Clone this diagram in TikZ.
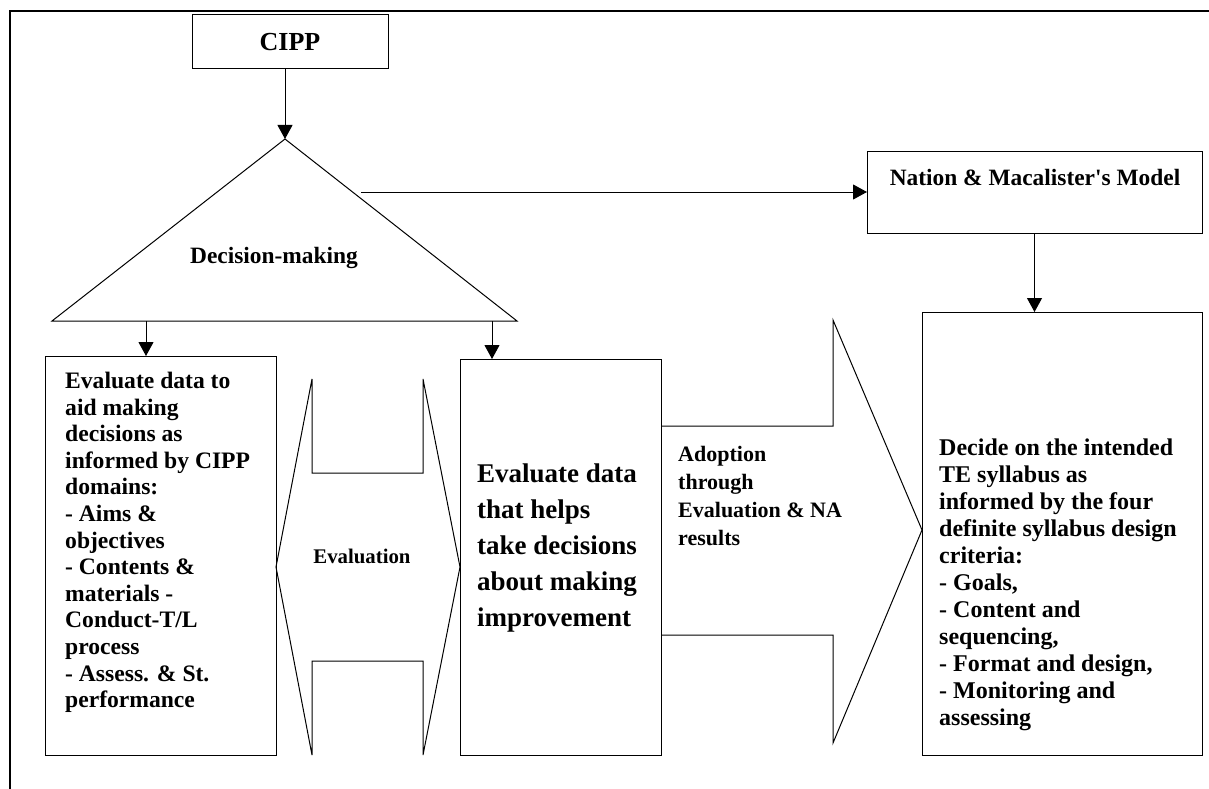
\documentclass[tikz,border=0pt]{standalone}
\usepackage{fontspec}
\setmainfont{Liberation Serif}
\usetikzlibrary{arrows.meta}

\tikzset{
  box/.style={draw, line width=1pt, inner sep=0pt, outer sep=0pt, anchor=north west},
  lbl/.style={inner sep=0pt, align=left},
  arr/.style={line width=1pt, -{Triangle[width=15pt,length=14pt]}},
}

\begin{document}
\begin{tikzpicture}[x=1pt, y=-1pt]
    \useasboundingbox (0,0) rectangle (1209,789);

    % page frame, open at the bottom and right
    \draw[line width=2pt] (10,789) -- (10,11) -- (1209,11);

    % boxes
    \node[box, minimum width=196, minimum height=54,
      font=\bfseries\fontsize{26}{28}\selectfont] (cipp) at (192,15) {CIPP};
    \node[box, minimum width=335, minimum height=82] (nation) at (867,151) {};
    \node[box, minimum width=231, minimum height=399] (aims) at (45,356) {};
    \node[box, minimum width=201, minimum height=396] (improve) at (460,359) {};
    \node[box, minimum width=280, minimum height=443] (syllabus) at (922,312) {};

    % decision-making triangle
    \coordinate (apex) at (285,139);
    \coordinate (baseL) at (146,321);
    \coordinate (baseR) at (492,321);
    \coordinate (decout) at (361,192);
    \draw[line width=1pt] (apex) -- (517,321) -- (52,321) -- cycle;

    % evaluation double arrow
    \draw[line width=1pt] (276,567) -- (312,379) -- (312,473) -- (423,473) --
    (423,379) -- (460,567) -- (423,755) -- (423,661) -- (312,661) --
    (312,755) -- cycle;

    % adoption block arrow
    \draw[line width=1pt] (661,426) -- (833,426) -- (833,320) -- (922,530) --
    (833,743) -- (833,635) -- (661,635);

    % connectors
    \draw[arr] (apex |- cipp.south) -- (apex);
    \draw[arr] (baseL) -- (baseL |- aims.north);
    \draw[arr] (baseR) -- (baseR |- improve.north);
    \draw[arr] (decout) -- (nation.west |- decout);
    \draw[arr] (nation.south) -- (nation.south |- syllabus.north);

    % texts
    \node[lbl, anchor=base, font=\bfseries\fontsize{23.4}{26}\selectfont]
      (nationtxt) at (1035,185) {Nation \& Macalister\textquotesingle s Model};
    \node[lbl, anchor=base, font=\bfseries\fontsize{23.4}{26}\selectfont]
      (dectxt) at (274,263) {Decision-making};
    \node[lbl, anchor=base, font=\bfseries\fontsize{20.8}{24}\selectfont]
      (evaltxt) at (362,563) {Evaluation};
    \node[lbl, anchor=north west, font=\bfseries\fontsize{23.6}{26.6}\selectfont]
      (aimstxt) at (65,372) {Evaluate data to\\aid making\\decisions as\\
      informed by CIPP\\domains:\\- Aims \&\\objectives\\- Contents \&\\
      materials -\\Conduct-T/L\\process\\- Assess. \& St.\\performance};
    \node[lbl, anchor=north west, font=\bfseries\fontsize{27}{36}\selectfont]
      (improvetxt) at (477,464) {Evaluate data\\that helps\\take decisions\\
      about making\\improvement};
    \node[lbl, anchor=north west, font=\bfseries\fontsize{22}{28}\selectfont]
      (adopttxt) at (678,446) {Adoption\\through\\Evaluation \& NA\\results};
    \node[lbl, anchor=north west, font=\bfseries\fontsize{24}{27}\selectfont]
      (syllabustxt) at (939,439) {Decide on the intended\\TE syllabus as\\
      informed by the four\\definite syllabus design\\criteria:\\- Goals,\\
      - Content and\\sequencing,\\- Format and design,\\- Monitoring and\\
      assessing};
\end{tikzpicture}
\end{document}
